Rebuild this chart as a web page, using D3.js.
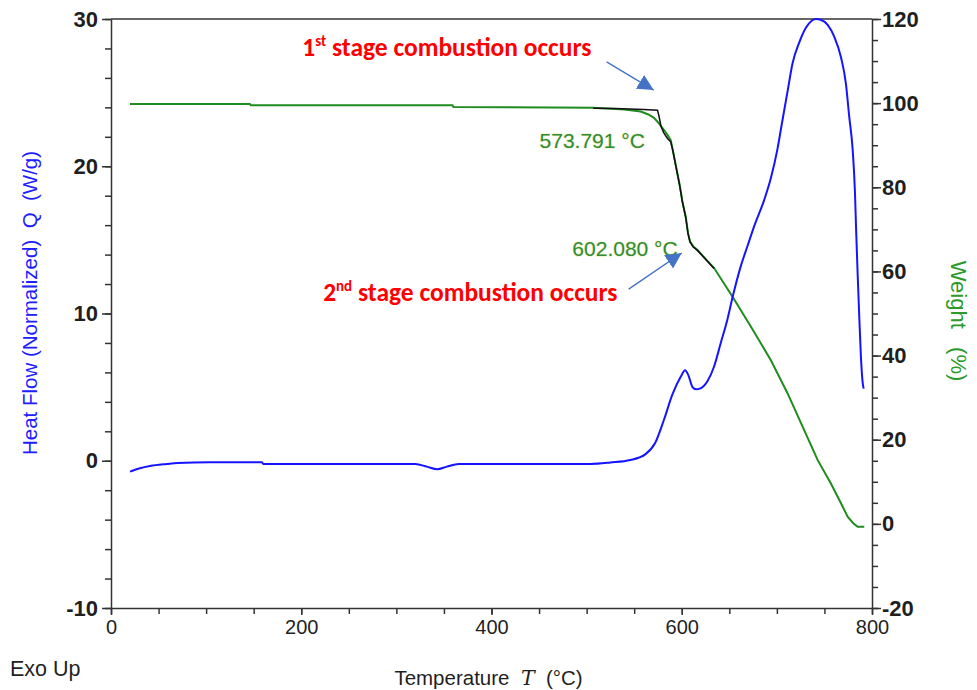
<!DOCTYPE html>
<html>
<head>
<meta charset="utf-8">
<script src="https://cdn.jsdelivr.net/npm/d3@7"></script>
<style>
  html, body { margin: 0; padding: 0; background: #fff; }
  svg { display: block; }
  .axis text { font-family: "Liberation Sans", Arial, sans-serif; fill: #1f1f1f; }
  .yaxis text { font-size: 22px; font-weight: bold; }
  .xaxis text { font-size: 20px; }
  .axis path, .axis line { stroke: #333; stroke-width: 1.5; }
</style>
</head>
<body>
<svg id="chart" width="977" height="690"></svg>
<script>
// ---------- Data ----------
// Heat flow (W/g) vs temperature (°C)
const hfTemp = [20, 30.5, 41, 58.6, 70, 104, 158.6, 160.3, 320, 332, 343, 353, 365.6, 504, 525, 546, 562, 572, 581.4, 590.2, 598.9, 603.5, 607, 611.3, 615, 619, 627, 634, 641, 648, 653.4, 662, 669.2, 676, 686.6, 693.7, 700.7, 705, 711, 716.5, 723.5, 730.5, 737, 741, 746, 753.4, 760.3, 767.4, 772.6, 776, 779.7, 782.1, 783.2, 784.9, 786.6, 788.4, 790.2, 791.2];
const hfValue = [-0.74, -0.51, -0.36, -0.22, -0.15, -0.11, -0.11, -0.22, -0.22, -0.40, -0.58, -0.40, -0.22, -0.22, -0.12, 0.05, 0.45, 1.2, 2.8, 4.5, 5.7, 6.15, 5.8, 5.0, 4.85, 4.9, 5.4, 6.4, 8.0, 9.6, 11.1, 13.2, 14.6, 15.9, 17.7, 19.2, 21.2, 22.8, 25.0, 27.0, 28.4, 29.4, 29.9, 30.0, 29.95, 29.6, 28.8, 27.4, 25.6, 23.4, 21.1, 18.2, 15.9, 12.7, 9.8, 7.0, 5.3, 4.9];

// Weight (%) vs temperature (°C)
const wTemp = [20, 146, 147, 359, 360, 507, 540, 556.8, 565, 570.8, 576, 581.4, 585, 588.4, 590.5, 594.7, 597.9, 600.7, 604.2, 606.6, 608.7, 612, 616.5, 625, 634, 653.4, 672.6, 693.7, 711.3, 728.7, 742.8, 756.8, 767.4, 774.4, 780, 784.9, 791.9];
const wValue = [99.8, 99.8, 99.5, 99.5, 99.1, 98.9, 98.5, 98.0, 97.3, 96.5, 95.2, 93.6, 92.5, 91.2, 88.9, 84.1, 80.5, 76.6, 73.0, 69.1, 67.1, 66.0, 65.1, 63.0, 60.8, 54.0, 46.9, 38.9, 31.0, 22.3, 15.2, 9.6, 4.9, 1.7, 0.2, -0.7, -0.7];

// Onset analysis (black tangent construction) on the weight curve
const onsetTemp = [507, 530, 560, 574.5, 576, 578.2, 581, 585, 588.4, 590.5, 594.7, 597.9, 600.7, 604.2, 606.6, 608.7, 612, 616.5, 625, 634];
const onsetValue = [98.8, 98.7, 98.5, 98.3, 97.0, 94.5, 93.0, 91.6, 90.8, 88.9, 84.0, 80.3, 76.5, 72.8, 69.0, 67.0, 65.8, 65.0, 62.9, 60.7];

// Axis ticks
const xMajorTicks = [0, 200, 400, 600, 800];
const leftMajorTicks = [-10, 0, 10, 20, 30];
const rightMajorTicks = [-20, 0, 20, 40, 60, 80, 100, 120];

// Annotations (data coordinates: temperature, weight %)
const onsetLabels = [
  { text: "573.791 °C", t: 450.5, w: 89.4 },
  { text: "602.080 °C", t: 485, w: 63.6 }
];
const stageLabels = [
  { num: "1", sup: "st", rest: " stage combustion occurs", t: 201, w: 111.3 },
  { num: "2", sup: "nd", rest: " stage combustion occurs", t: 223, w: 52.9 }
];
const arrows = [
  { t0: 521, w0: 109.8, t1: 570.5, w1: 103.1 },
  { t0: 544.2, w0: 55.8, t1: 600, w1: 64.4 }
];

// ---------- Chart ----------
const svg = d3.select("#chart");
svg.append("rect").attr("width", 977).attr("height", 690).attr("fill", "#fff");

const x = d3.scaleLinear().domain([0, 800]).range([111, 872]);
const yL = d3.scaleLinear().domain([-10, 30]).range([608, 19]);
const yR = d3.scaleLinear().domain([-20, 120]).range([608, 19]);
const fmt = d => String(d); // plain hyphen-minus as in the original

// Minor ticks
svg.append("g").attr("class", "axis").attr("transform", `translate(${x(0)},0)`)
  .call(d3.axisLeft(yL).tickValues(d3.range(-10, 30.01, 2)).tickSize(6).tickFormat(""))
  .call(g => g.select(".domain").remove());
svg.append("g").attr("class", "axis").attr("transform", `translate(${x(800)},0)`)
  .call(d3.axisRight(yR).tickValues(d3.range(-20, 120.01, 5)).tickSize(6).tickFormat(""))
  .call(g => g.select(".domain").remove());
svg.append("g").attr("class", "axis").attr("transform", `translate(0,${yL(-10)})`)
  .call(d3.axisBottom(x).tickValues(d3.range(0, 800.01, 50)).tickSize(6).tickFormat(""))
  .call(g => g.select(".domain").remove());

// Major axes
svg.append("g").attr("class", "axis yaxis").attr("transform", `translate(${x(0)},0)`)
  .call(d3.axisLeft(yL).tickValues(leftMajorTicks).tickSize(9).tickSizeOuter(0).tickPadding(4).tickFormat(fmt));
svg.append("g").attr("class", "axis yaxis").attr("transform", `translate(${x(800)},0)`)
  .call(d3.axisRight(yR).tickValues(rightMajorTicks).tickSize(9).tickSizeOuter(0).tickPadding(1).tickFormat(fmt));
svg.append("g").attr("class", "axis xaxis").attr("transform", `translate(0,${yL(-10)})`)
  .call(d3.axisBottom(x).tickValues(xMajorTicks).tickSize(7).tickSizeOuter(0).tickPadding(5).tickFormat(fmt));

// Top frame
svg.append("line").attr("x1", x(0)).attr("x2", x(800)).attr("y1", yL(30)).attr("y2", yL(30))
  .attr("stroke", "#333").attr("stroke-width", 1.5);

// Curves
const hfData = hfTemp.map((t, i) => [t, hfValue[i]]);
const wData = wTemp.map((t, i) => [t, wValue[i]]);
const onData = onsetTemp.map((t, i) => [t, onsetValue[i]]);

svg.append("path").datum(wData)
  .attr("d", d3.line().x(d => x(d[0])).y(d => yR(d[1])))
  .attr("fill", "none").attr("stroke", "#1f8c1f").attr("stroke-width", 2);

svg.append("path").datum(onData)
  .attr("d", d3.line().x(d => x(d[0])).y(d => yR(d[1])))
  .attr("fill", "none").attr("stroke", "#111").attr("stroke-width", 1.5);

svg.append("path").datum(hfData)
  .attr("d", d3.line().curve(d3.curveMonotoneX).x(d => x(d[0])).y(d => yL(d[1])))
  .attr("fill", "none").attr("stroke", "#1414ff").attr("stroke-width", 2);

// Axis titles
svg.append("text")
  .attr("transform", `translate(37,303) rotate(-90)`)
  .attr("text-anchor", "middle")
  .style("font-family", "'Liberation Sans', Arial, sans-serif").style("font-size", "20.5px")
  .attr("fill", "#2020ff")
  .style("white-space", "pre")
  .text("Heat Flow (Normalized)  Q  (W/g)");

svg.append("text")
  .attr("transform", `translate(951,321) rotate(90)`)
  .attr("text-anchor", "middle")
  .style("font-family", "'Liberation Sans', Arial, sans-serif").style("font-size", "22px")
  .attr("fill", "#2a9a2a")
  .style("white-space", "pre")
  .text("Weight   (%)");

const xt = svg.append("text")
  .attr("x", (x(0) + x(800)) / 2 - 3).attr("y", 685)
  .attr("text-anchor", "middle")
  .style("font-family", "'Liberation Sans', Arial, sans-serif").style("font-size", "20.5px")
  .style("white-space", "pre")
  .attr("fill", "#1f1f1f");
xt.append("tspan").text("Temperature  ");
xt.append("tspan").style("font-family", "'DejaVu Serif', serif").style("font-style", "italic").text("T");
xt.append("tspan").text("  (°C)");

svg.append("text")
  .attr("x", 10).attr("y", 676)
  .style("font-family", "'Liberation Sans', Arial, sans-serif").style("font-size", "21.5px")
  .attr("fill", "#1f1f1f")
  .text("Exo Up");

// Onset labels
svg.selectAll(".onset").data(onsetLabels).join("text")
  .attr("class", "onset")
  .attr("x", d => x(d.t)).attr("y", d => yR(d.w))
  .style("font-family", "'Liberation Sans', Arial, sans-serif").style("font-size", "21px")
  .attr("fill", "#2e8c3a")
  .attr("stroke", "#e6e68a").attr("stroke-width", 1.2).attr("stroke-opacity", 0.7)
  .style("paint-order", "stroke")
  .text(d => d.text);

// Stage labels
const sl = svg.selectAll(".stage").data(stageLabels).join("text")
  .attr("class", "stage")
  .attr("x", d => x(d.t)).attr("y", d => yR(d.w))
  .style("font-family", "Carlito, Lato, 'Open Sans', sans-serif").style("font-size", "25.5px")
  .style("font-weight", "bold")
  .style("white-space", "pre")
  .attr("fill", "#ff0000");
sl.append("tspan").text(d => d.num);
sl.append("tspan").attr("dy", -10).style("font-size", "15px").text(d => d.sup);
sl.append("tspan").attr("dy", 10).text(d => d.rest);

// Arrows
const defs = svg.append("defs");
defs.append("marker").attr("id", "ah").attr("viewBox", "0 0 10 10")
  .attr("refX", 10).attr("refY", 5).attr("markerWidth", 16).attr("markerHeight", 16)
  .attr("markerUnits", "userSpaceOnUse").attr("orient", "auto")
  .append("path").attr("d", "M0,0 L10,5 L0,10 z").attr("fill", "#4472c4");

svg.selectAll(".arrow").data(arrows).join("line")
  .attr("class", "arrow")
  .attr("x1", d => x(d.t0)).attr("y1", d => yR(d.w0))
  .attr("x2", d => x(d.t1)).attr("y2", d => yR(d.w1))
  .attr("stroke", "#4472c4").attr("stroke-width", 1.3)
  .attr("marker-end", "url(#ah)");
</script>
</body>
</html>
